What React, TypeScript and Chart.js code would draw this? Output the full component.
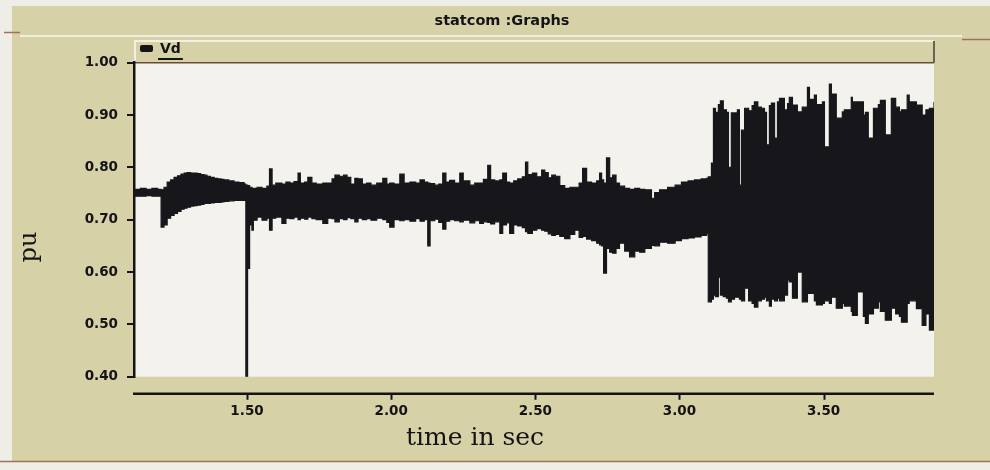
import { useEffect, useRef } from 'react';
import { Chart, registerables } from 'chart.js';

Chart.register(...registerables);

// Vd envelope (pu) sampled along the simulation time (s)
const timeSec = [
  1.108, 1.130, 1.150, 1.170, 1.190,
  1.202, 1.212, 1.223, 1.235, 1.247, 1.259, 1.271, 1.282, 1.292, 1.304,
  1.316, 1.327, 1.339, 1.351, 1.361, 1.373, 1.386, 1.398, 1.410, 1.420,
  1.437, 1.455, 1.472, 1.490, 1.496, 1.502, 1.509, 1.517, 1.522, 1.535,
  1.552, 1.569, 1.578, 1.587, 1.600, 1.621, 1.635, 1.649, 1.663, 1.677,
  1.685, 1.700, 1.711, 1.725, 1.740, 1.763, 1.780, 1.795, 1.805, 1.820,
  1.835, 1.847, 1.860, 1.874, 1.885, 1.900, 1.915, 1.930, 1.950, 1.971,
  1.985, 1.995, 2.010, 2.030, 2.045, 2.065, 2.085, 2.100, 2.115, 2.127,
  2.135, 2.151, 2.165, 2.179, 2.190, 2.203, 2.220, 2.238, 2.250, 2.273,
  2.290, 2.307, 2.320, 2.335, 2.345, 2.359, 2.377, 2.387, 2.400, 2.411,
  2.425, 2.439, 2.455, 2.466, 2.474, 2.490, 2.505, 2.522, 2.533, 2.545,
  2.557, 2.570, 2.585, 2.602, 2.620, 2.637, 2.652, 2.664, 2.678, 2.695,
  2.713, 2.723, 2.730, 2.737, 2.747, 2.758, 2.768, 2.780, 2.792, 2.810,
  2.827, 2.845, 2.862, 2.880, 2.903, 2.914, 2.931, 2.959, 2.985, 3.007,
  3.030, 3.052, 3.075, 3.094, 3.100, 3.111, 3.118, 3.125, 3.135, 3.142,
  3.152, 3.163, 3.170, 3.180, 3.191, 3.201, 3.208, 3.215, 3.226, 3.240,
  3.252, 3.260, 3.272, 3.284, 3.295, 3.302, 3.312, 3.319, 3.330, 3.340,
  3.347, 3.364, 3.375, 3.381, 3.392, 3.409, 3.426, 3.444, 3.451, 3.468,
  3.475, 3.496, 3.503, 3.520, 3.527, 3.544, 3.565, 3.572, 3.596, 3.600,
  3.617, 3.638, 3.645, 3.655, 3.673, 3.690, 3.697, 3.714, 3.735, 3.750,
  3.763, 3.770, 3.790, 3.797, 3.822, 3.842, 3.855, 3.867, 3.883,
];

const vdMax = [
  0.758, 0.760, 0.758, 0.760, 0.758,
  0.757, 0.762, 0.772, 0.776, 0.781, 0.784, 0.787, 0.789, 0.790, 0.789,
  0.789, 0.788, 0.786, 0.785, 0.783, 0.781, 0.779, 0.778, 0.777, 0.776,
  0.774, 0.772, 0.771, 0.768, 0.766, 0.765, 0.762, 0.760, 0.760, 0.762,
  0.760, 0.764, 0.797, 0.766, 0.770, 0.768, 0.772, 0.770, 0.773, 0.789,
  0.770, 0.772, 0.781, 0.770, 0.768, 0.770, 0.770, 0.778, 0.785, 0.783,
  0.785, 0.781, 0.768, 0.779, 0.778, 0.768, 0.770, 0.766, 0.770, 0.779,
  0.768, 0.770, 0.768, 0.787, 0.770, 0.772, 0.770, 0.776, 0.772, 0.770,
  0.769, 0.766, 0.768, 0.789, 0.772, 0.775, 0.770, 0.789, 0.774, 0.766,
  0.770, 0.770, 0.777, 0.804, 0.776, 0.774, 0.776, 0.789, 0.772, 0.770,
  0.774, 0.778, 0.782, 0.810, 0.786, 0.789, 0.782, 0.795, 0.790, 0.780,
  0.785, 0.783, 0.765, 0.760, 0.762, 0.762, 0.770, 0.798, 0.772, 0.770,
  0.774, 0.789, 0.776, 0.770, 0.818, 0.780, 0.785, 0.770, 0.764, 0.760,
  0.758, 0.760, 0.758, 0.757, 0.741, 0.752, 0.757, 0.762, 0.766, 0.772,
  0.774, 0.776, 0.778, 0.779, 0.782, 0.808, 0.913, 0.905, 0.920, 0.927,
  0.910, 0.905, 0.800, 0.904, 0.904, 0.910, 0.766, 0.871, 0.913, 0.908,
  0.918, 0.925, 0.915, 0.913, 0.905, 0.843, 0.918, 0.923, 0.856, 0.925,
  0.932, 0.910, 0.922, 0.934, 0.919, 0.906, 0.915, 0.953, 0.930, 0.938,
  0.920, 0.925, 0.839, 0.959, 0.940, 0.894, 0.906, 0.910, 0.934, 0.925,
  0.925, 0.900, 0.905, 0.856, 0.913, 0.920, 0.928, 0.862, 0.932, 0.915,
  0.906, 0.910, 0.938, 0.925, 0.919, 0.900, 0.910, 0.913, 0.925,
];

const vdMin = [
  0.745, 0.745, 0.746, 0.745, 0.745,
  0.686, 0.690, 0.703, 0.708, 0.712, 0.716, 0.720, 0.722, 0.724, 0.726,
  0.727, 0.728, 0.729, 0.731, 0.731, 0.732, 0.733, 0.733, 0.734, 0.735,
  0.736, 0.737, 0.737, 0.737, 0.400, 0.607, 0.690, 0.680, 0.699, 0.705,
  0.699, 0.703, 0.680, 0.703, 0.705, 0.693, 0.703, 0.702, 0.705, 0.700,
  0.703, 0.701, 0.705, 0.702, 0.700, 0.693, 0.703, 0.702, 0.696, 0.702,
  0.700, 0.704, 0.702, 0.696, 0.703, 0.700, 0.702, 0.699, 0.703, 0.700,
  0.695, 0.686, 0.700, 0.698, 0.700, 0.697, 0.702, 0.697, 0.700, 0.650,
  0.698, 0.701, 0.695, 0.682, 0.697, 0.700, 0.698, 0.696, 0.699, 0.694,
  0.698, 0.693, 0.696, 0.695, 0.692, 0.696, 0.674, 0.690, 0.694, 0.674,
  0.690, 0.688, 0.685, 0.677, 0.674, 0.680, 0.683, 0.680, 0.678, 0.673,
  0.670, 0.672, 0.668, 0.664, 0.672, 0.680, 0.666, 0.668, 0.663, 0.660,
  0.655, 0.652, 0.650, 0.598, 0.645, 0.638, 0.636, 0.645, 0.655, 0.640,
  0.629, 0.640, 0.638, 0.645, 0.651, 0.650, 0.657, 0.655, 0.660, 0.664,
  0.665, 0.667, 0.670, 0.673, 0.543, 0.548, 0.556, 0.553, 0.590, 0.556,
  0.553, 0.550, 0.543, 0.548, 0.552, 0.552, 0.548, 0.545, 0.569, 0.545,
  0.540, 0.533, 0.545, 0.548, 0.552, 0.545, 0.535, 0.548, 0.545, 0.550,
  0.545, 0.556, 0.585, 0.581, 0.550, 0.600, 0.543, 0.559, 0.559, 0.545,
  0.537, 0.540, 0.545, 0.540, 0.552, 0.531, 0.540, 0.535, 0.525, 0.517,
  0.562, 0.515, 0.502, 0.520, 0.531, 0.543, 0.525, 0.508, 0.531, 0.520,
  0.515, 0.504, 0.540, 0.545, 0.530, 0.498, 0.520, 0.489, 0.489,
];

const xTickValues = [1.5, 2.0, 2.5, 3.0, 3.5];
const yTickValues = [0.4, 0.5, 0.6, 0.7, 0.8, 0.9, 1.0];

const graphTitle = 'statcom :Graphs';
const seriesName = 'Vd';
const xAxisTitle = 'time in sec';
const yAxisTitle = 'pu';

const PAGE_BG = '#efeee6';
const PANEL_BG = '#d7d1a7';
const PLOT_BG = '#f3f2ec';
const INK = '#141416';
const SIGNAL = '#17171b';

const tickFont = { family: '"DejaVu Sans", sans-serif', size: 13.5, weight: 'bold' as const };

const panelFrame = {
  id: 'panelFrame',
  beforeDraw(chart: any) {
    const { ctx, chartArea: a, width, height } = chart;
    ctx.save();
    ctx.fillStyle = PAGE_BG;
    ctx.fillRect(0, 0, width, height);
    ctx.fillStyle = PANEL_BG;
    ctx.fillRect(12, 6, width - 12, 455);

    // window separators
    ctx.strokeStyle = '#a0705a';
    ctx.lineWidth = 1.5;
    ctx.beginPath();
    ctx.moveTo(4, 32.5); ctx.lineTo(20, 32.5);
    ctx.moveTo(962, 39.5); ctx.lineTo(990, 39.5);
    ctx.moveTo(0, 461.5); ctx.lineTo(990, 461.5);
    ctx.stroke();
    ctx.strokeStyle = '#f1efe2';
    ctx.lineWidth = 2;
    ctx.beginPath();
    ctx.moveTo(20, 36); ctx.lineTo(962, 36);
    ctx.stroke();

    // legend strip above the plot
    const stripTop = 41;
    ctx.strokeStyle = '#f2f0e2';
    ctx.lineWidth = 2;
    ctx.beginPath();
    ctx.moveTo(a.left + 1, a.top); ctx.lineTo(a.left + 1, stripTop);
    ctx.lineTo(a.right, stripTop);
    ctx.stroke();
    ctx.strokeStyle = '#4a3d33';
    ctx.lineWidth = 1.5;
    ctx.beginPath();
    ctx.moveTo(a.right, stripTop); ctx.lineTo(a.right, a.top);
    ctx.stroke();

    // plot background
    ctx.fillStyle = PLOT_BG;
    ctx.fillRect(a.left, a.top, a.right - a.left, a.bottom - a.top);
    ctx.strokeStyle = '#6b4c3a';
    ctx.lineWidth = 1.5;
    ctx.beginPath();
    ctx.moveTo(a.left, a.top); ctx.lineTo(a.right, a.top);
    ctx.stroke();
    ctx.restore();
  },
  afterDraw(chart: any) {
    const { ctx, chartArea: a, scales } = chart;
    ctx.save();
    ctx.fillStyle = INK;

    // graph title
    ctx.font = 'bold 14.5px "DejaVu Sans", sans-serif';
    ctx.textAlign = 'center';
    ctx.textBaseline = 'middle';
    ctx.fillText(graphTitle, 502, 21);

    // legend entry
    const label = chart.data.datasets[0].label;
    ctx.beginPath();
    ctx.roundRect(140, 45, 13, 7, 2);
    ctx.fill();
    ctx.font = 'bold 14px "DejaVu Sans", sans-serif';
    ctx.textAlign = 'left';
    ctx.fillText(label, 160, 49);
    const lw = ctx.measureText(label).width;
    ctx.strokeStyle = INK;
    ctx.lineWidth = 2;
    ctx.beginPath();
    ctx.moveTo(158, 59); ctx.lineTo(162 + lw, 59);
    ctx.stroke();

    // detached time axis below the plot
    const axisY = a.bottom + 17;
    ctx.lineWidth = 2.5;
    ctx.beginPath();
    ctx.moveTo(a.left - 1, axisY); ctx.lineTo(a.right, axisY);
    ctx.stroke();
    ctx.lineWidth = 2;
    ctx.beginPath();
    for (const t of scales.x.ticks) {
      const px = Math.round(scales.x.getPixelForValue(t.value)) + 0.5;
      ctx.moveTo(px, axisY); ctx.lineTo(px, axisY + 6);
    }
    ctx.stroke();

    // axis titles
    ctx.font = '25px "DejaVu Serif", serif';
    ctx.textAlign = 'center';
    ctx.textBaseline = 'middle';
    ctx.fillText(xAxisTitle, 475, 438);
    ctx.translate(30, 247);
    ctx.rotate(-Math.PI / 2);
    ctx.font = '24px "DejaVu Serif", serif';
    ctx.fillText(yAxisTitle, 0, 0);
    ctx.restore();
  },
};

export default function App() {
  const canvasRef = useRef<HTMLCanvasElement | null>(null);

  useEffect(() => {
    const canvas = canvasRef.current;
    if (!canvas) return;
    const upper = timeSec.map((t, i) => ({ x: t, y: vdMax[i] }));
    const lower = timeSec.map((t, i) => ({ x: t, y: vdMin[i] }));

    const chart = new Chart(canvas, {
      type: 'line',
      data: {
        datasets: [
          {
            label: seriesName,
            data: upper,
            stepped: true,
            borderColor: SIGNAL,
            borderWidth: 1.2,
            pointRadius: 0,
            fill: false,
          },
          {
            label: seriesName + ' min',
            data: lower,
            stepped: true,
            borderColor: SIGNAL,
            borderWidth: 1.2,
            pointRadius: 0,
            backgroundColor: SIGNAL,
            fill: '-1',
          },
        ],
      },
      options: {
        responsive: false,
        animation: false,
        devicePixelRatio: 1,
        layout: { padding: { left: 0, top: 62.7, right: 56, bottom: 0 } },
        plugins: {
          legend: { display: false },
          title: { display: false },
          tooltip: { enabled: false },
        },
        scales: {
          x: {
            type: 'linear',
            min: 1.108,
            max: 3.883,
            border: { display: false },
            grid: { display: false, drawTicks: false },
            afterBuildTicks: (scale: any) => {
              scale.ticks = xTickValues.map((v) => ({ value: v }));
            },
            afterFit: (scale: any) => {
              scale.height = 470 - 376.7;
            },
            ticks: {
              autoSkip: false,
              maxRotation: 0,
              padding: 27,
              color: INK,
              font: tickFont,
              callback: (v: any) => Number(v).toFixed(2),
            },
          },
          y: {
            type: 'linear',
            min: 0.4,
            max: 1.0,
            border: { display: true, color: INK, width: 2.5 },
            grid: {
              drawOnChartArea: false,
              drawTicks: true,
              tickLength: 7,
              color: INK,
              lineWidth: 2,
            },
            afterBuildTicks: (scale: any) => {
              scale.ticks = yTickValues.map((v) => ({ value: v }));
            },
            afterFit: (scale: any) => {
              scale.width = 134;
            },
            ticks: {
              padding: 9,
              color: INK,
              font: tickFont,
              callback: (v: any) => Number(v).toFixed(2),
            },
          },
        },
      },
      plugins: [panelFrame],
    });
    return () => chart.destroy();
  }, []);

  return (
    <div style={{ position: 'fixed', left: 0, top: 0, width: 990, height: 470 }}>
      <canvas ref={canvasRef} width={990} height={470} style={{ display: 'block' }} />
    </div>
  );
}
